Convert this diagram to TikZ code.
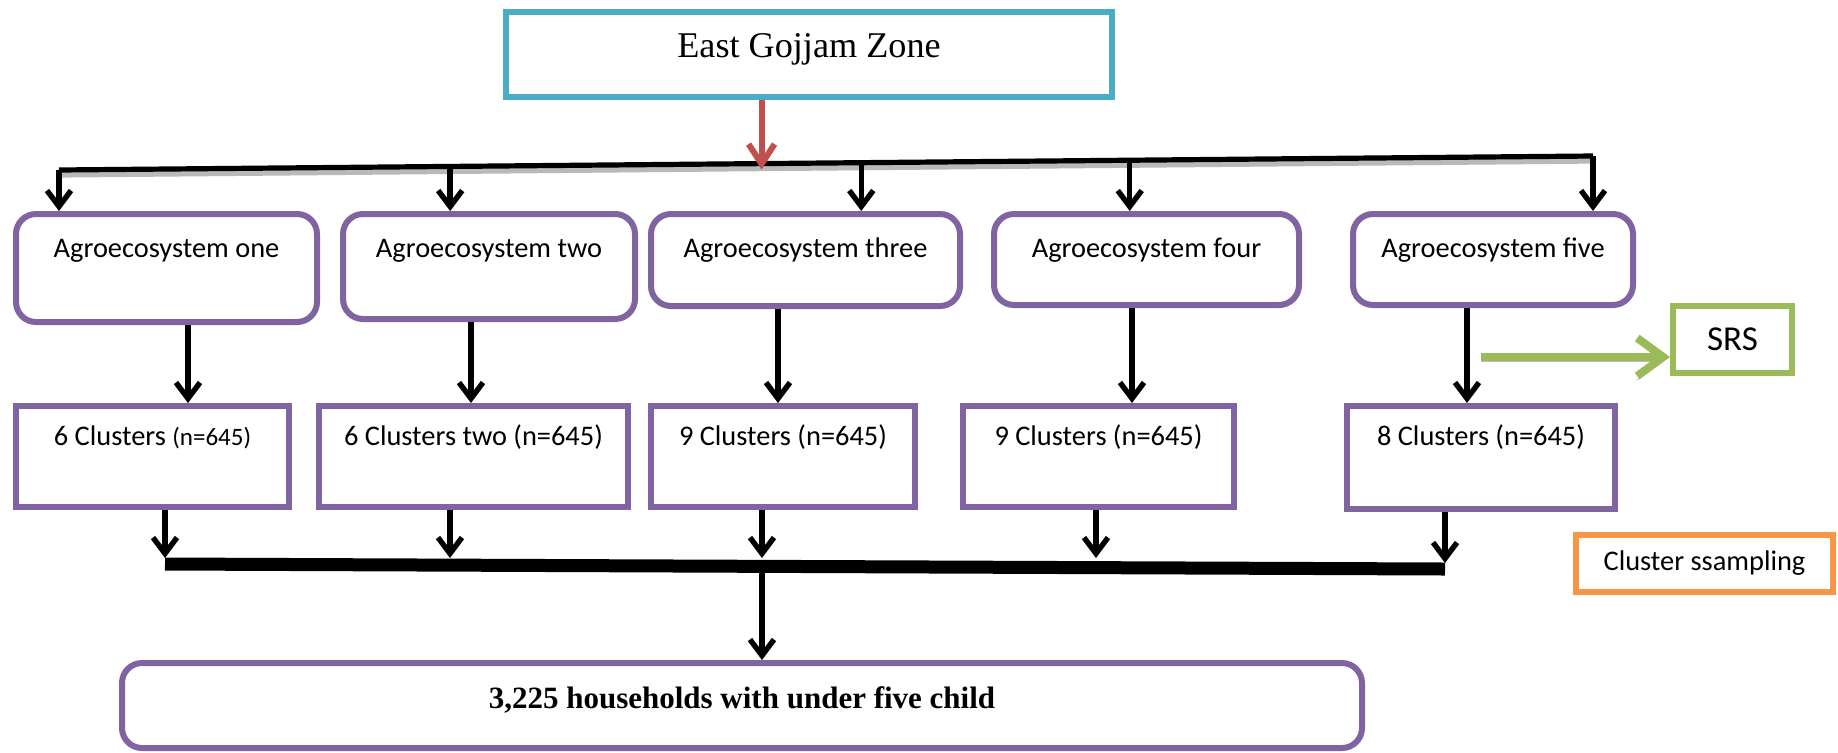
\documentclass[tikz,border=0pt]{standalone}
\usepackage{fontspec}
\setmainfont{Liberation Serif}
\newfontfamily\calibri{Carlito}
\usepackage{tikz}
\usetikzlibrary{arrows.meta, positioning, calc}

\definecolor{zonecyan}{HTML}{4BACC6}
\definecolor{agropurple}{HTML}{8064A2}
\definecolor{arrowred}{HTML}{C0504D}
\definecolor{srsgreen}{HTML}{9BBB59}
\definecolor{samporange}{HTML}{F79646}

\begin{document}
\begin{tikzpicture}[
  x=0.5pt, y=-0.5pt,
  zone/.style  = {draw=zonecyan, line width=3pt, minimum width=303pt,
                  inner sep=0pt, text height=22.5pt, text depth=20pt,
                  font=\fontsize{18.1}{20}\selectfont},
  agro/.style  = {draw=agropurple, line width=3pt, rounded corners=10pt,
                  inner sep=0pt, text height=21.5pt,
                  font=\calibri\fontsize{14.2}{16}\selectfont},
  clus/.style  = {draw=agropurple, line width=3pt, inner sep=0pt,
                  text height=19.5pt, text depth=31pt,
                  font=\calibri\fontsize{14.2}{16}\selectfont},
  hh/.style    = {draw=agropurple, line width=3pt, rounded corners=10pt,
                  minimum width=620pt, inner sep=0pt, text height=22.5pt,
                  text depth=20pt, font=\bfseries\fontsize{15.5}{17}\selectfont},
  srs/.style   = {draw=srsgreen, line width=3pt, inner sep=0pt,
                  minimum width=59.5pt, minimum height=33.5pt,
                  font=\calibri\fontsize{17.5}{19}\selectfont},
  samp/.style  = {draw=samporange, line width=3pt, inner sep=0pt,
                  minimum width=128.5pt, minimum height=28.5pt,
                  font=\calibri\fontsize{14.2}{16}\selectfont},
  arr/.style   = {-{Straight Barb[length=8pt,width=12pt]}, line width=2.7pt},
  redarr/.style= {-{Straight Barb[length=10pt,width=13pt]}, line width=3pt,
                  draw=arrowred},
  bus/.style   = {line width=2.6pt,
                  preaction={draw=gray!55, line width=2.8pt,
                             transform canvas={yshift=-2.4pt}}},
  bar/.style   = {line width=6.5pt},
  grarr/.style = {-{Straight Barb[length=13pt,width=19pt]}, line width=4pt,
                  draw=srsgreen,
                  preaction={draw=gray!55, transform canvas={yshift=-2pt}}}
]
\useasboundingbox (0,0) rectangle (1838,752);

% top and first row
\node[zone, anchor=north] (zone) at (809,9) {East Gojjam Zone};

\node[agro, minimum width=150.5pt, text depth=32.5pt, anchor=north west]
  (a1) at (13,211) {Agroecosystem one};
\node[agro, minimum width=146pt, text depth=31pt,
      right=10pt of a1.north east, anchor=north west] (a2) {Agroecosystem two};
\node[agro, minimum width=154.5pt, text depth=24.5pt,
      right=5pt of a2.north east, anchor=north west] (a3) {Agroecosystem three};
\node[agro, minimum width=152.5pt, text depth=24pt,
      right=14pt of a3.north east, anchor=north west] (a4) {Agroecosystem four};
\node[agro, minimum width=140pt, text depth=24pt,
      right=24pt of a4.north east, anchor=north west] (a5) {Agroecosystem five};

% clusters
\node[clus, minimum width=136.5pt, below=39pt of a1.south west,
      anchor=north west] (c1) {6 Clusters {\fontsize{12.5}{14}\selectfont(n=645)}};
\node[clus, minimum width=154.5pt, right=12pt of c1.north east,
      anchor=north west] (c2) {6 Clusters two (n=645)};
\node[clus, minimum width=132pt, right=8.5pt of c2.north east,
      anchor=north west] (c3) {9 Clusters (n=645)};
\node[clus, minimum width=135.5pt, right=21pt of c3.north east,
      anchor=north west] (c4) {9 Clusters (n=645)};
\node[clus, minimum width=134pt, text depth=32pt, right=53.5pt of c4.north east,
      anchor=north west] (c5) {8 Clusters (n=645)};

\node[hh, anchor=north west] (hh) at (119,660) {3,225 households with under five child};

\node[srs] (srs) at (1732.5,339.5) {SRS};
\node[samp] (samp) at (1704.5,563.5) {Cluster ssampling};

% bus from the zone
\coordinate (busL) at (59,170);
\coordinate (busR) at (1593,156);
\coordinate (b2) at ($(busL)!0.255!(busR)$);
\coordinate (b3) at ($(busL)!0.523!(busR)$);
\coordinate (b4) at ($(busL)!0.698!(busR)$);
\coordinate (bz) at ($(busL)!0.458!(busR)$);

\draw[bus] (busL) -- (busR);
\draw[redarr] (zone.south -| bz) -- ([yshift=-3pt]bz);
\draw[arr] (busL) -- (busL |- a1.north);
\draw[arr] (b2) -- (b2 |- a2.north);
\draw[arr] (b3) -- (b3 |- a3.north);
\draw[arr] (b4) -- (b4 |- a4.north);
\draw[arr] (busR) -- (busR |- a5.north);

% agroecosystems to clusters
\draw[arr] ([xshift=10.75pt]a1.south) -- ([xshift=10.75pt]a1.south |- c1.north);
\draw[arr] ([xshift=-9pt]a2.south) -- ([xshift=-9pt]a2.south |- c2.north);
\draw[arr] ([xshift=-13.75pt]a3.south) -- ([xshift=-13.75pt]a3.south |- c3.north);
\draw[arr] ([xshift=-7.25pt]a4.south) -- ([xshift=-7.25pt]a4.south |- c4.north);
\draw[arr] ([xshift=-13pt]a5.south) -- ([xshift=-13pt]a5.south |- c5.north);

\coordinate (srsfrom) at (1481,357);
\draw[grarr] (srsfrom) -- (srsfrom -| srs.west);

% clusters to households
\coordinate (barL) at (165,564);
\coordinate (barR) at (1445,569);
\draw[bar] (barL) -- (barR);
\draw[arr, shorten >=3pt] ([xshift=6.25pt]c1.south) -- (barL);
\draw[arr, shorten >=3pt] ([xshift=-11.75pt]c2.south) -- ([xshift=-11.75pt]c2.south |- barL);
\draw[arr, shorten >=3pt] ([xshift=-10.5pt]c3.south) -- ([xshift=-10.5pt]c3.south |- barL);
\draw[arr, shorten >=3pt] ([xshift=-1.25pt]c4.south) -- ([xshift=-1.25pt]c4.south |- barL);
\draw[arr, shorten >=3pt] ([xshift=-18pt]c5.south) -- (barR);
\draw[arr] ([xshift=10pt]hh.north |- barL) -- ([xshift=10pt]hh.north);

\end{tikzpicture}
\end{document}
